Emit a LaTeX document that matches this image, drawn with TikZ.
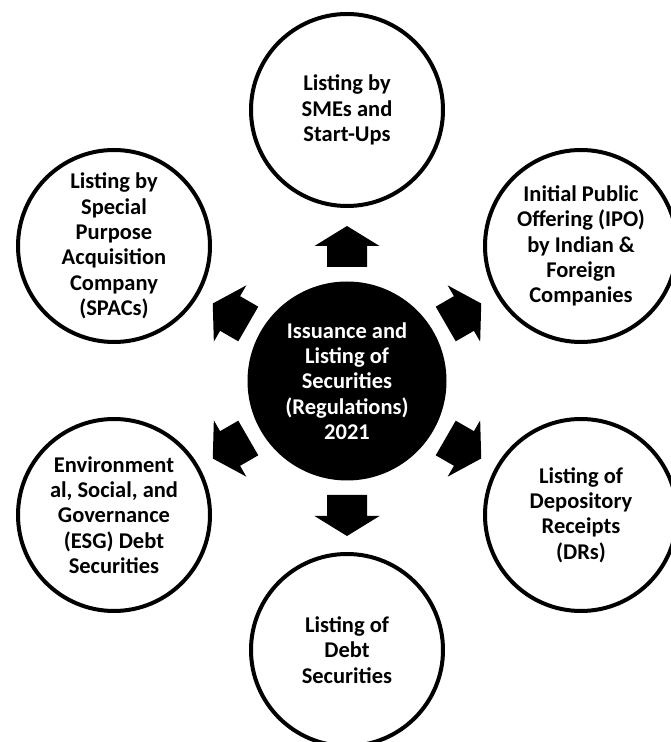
\documentclass[tikz,border=0pt]{standalone}
\usepackage{fontspec}
\setmainfont{Carlito}

\begin{document}
\begin{tikzpicture}[
        x=1pt, y=1pt,
        hub/.style={circle, fill=black, text=white, minimum size=199pt, inner sep=0pt, align=center, font=\bfseries\fontsize{22.5}{25.4}\selectfont},
        topic/.style={circle, draw=black, line width=4pt, fill=white, text=black, minimum size=192pt, inner sep=0pt, align=center, font=\bfseries\fontsize{22.5}{25.4}\selectfont},
        blockarrow/.style={fill=black, shift={(regs.center)}}
    ]
    \useasboundingbox (0,0) rectangle (670,742);

    % Centre circle
    \node[hub] (regs) at (347, 361) {Issuance and\\Listing of\\Securities\\(Regulations)\\2021};

    % Outer circles
    \node[topic] (smes) at (347, 632) {Listing by\\SMEs and\\Start-Ups};
    \node[topic] (ipo) at (581, 496) {Initial Public\\Offering (IPO)\\by Indian \&\\Foreign\\Companies};
    \node[topic] (drs) at (581, 227) {Listing of\\Depository\\Receipts\\(DRs)};
    \node[topic] (debt) at (347, 92) {Listing of\\Debt\\Securities};
    \node[topic] (esg) at (114, 227) {Environment\\al, Social, and\\Governance\\(ESG) Debt\\Securities};
    \node[topic] (spacs) at (114, 496) {Listing by\\Special\\Purpose\\Acquisition\\Company\\(SPACs)};

    % Block arrows pointing out from the centre
    \fill[blockarrow, rotate=90] (114,-20) -- (135,-20) -- (135,-32.5) -- (155,0) -- (135,32.5) -- (135,20) -- (114,20) -- cycle;
    \fill[blockarrow, rotate=30] (114,-20) -- (135,-20) -- (135,-32.5) -- (155,0) -- (135,32.5) -- (135,20) -- (114,20) -- cycle;
    \fill[blockarrow, rotate=-30] (114,-20) -- (135,-20) -- (135,-32.5) -- (155,0) -- (135,32.5) -- (135,20) -- (114,20) -- cycle;
    \fill[blockarrow, rotate=-90] (114,-20) -- (135,-20) -- (135,-32.5) -- (155,0) -- (135,32.5) -- (135,20) -- (114,20) -- cycle;
    \fill[blockarrow, rotate=210] (114,-20) -- (135,-20) -- (135,-32.5) -- (155,0) -- (135,32.5) -- (135,20) -- (114,20) -- cycle;
    \fill[blockarrow, rotate=150] (114,-20) -- (135,-20) -- (135,-32.5) -- (155,0) -- (135,32.5) -- (135,20) -- (114,20) -- cycle;

\end{tikzpicture}
\end{document}
